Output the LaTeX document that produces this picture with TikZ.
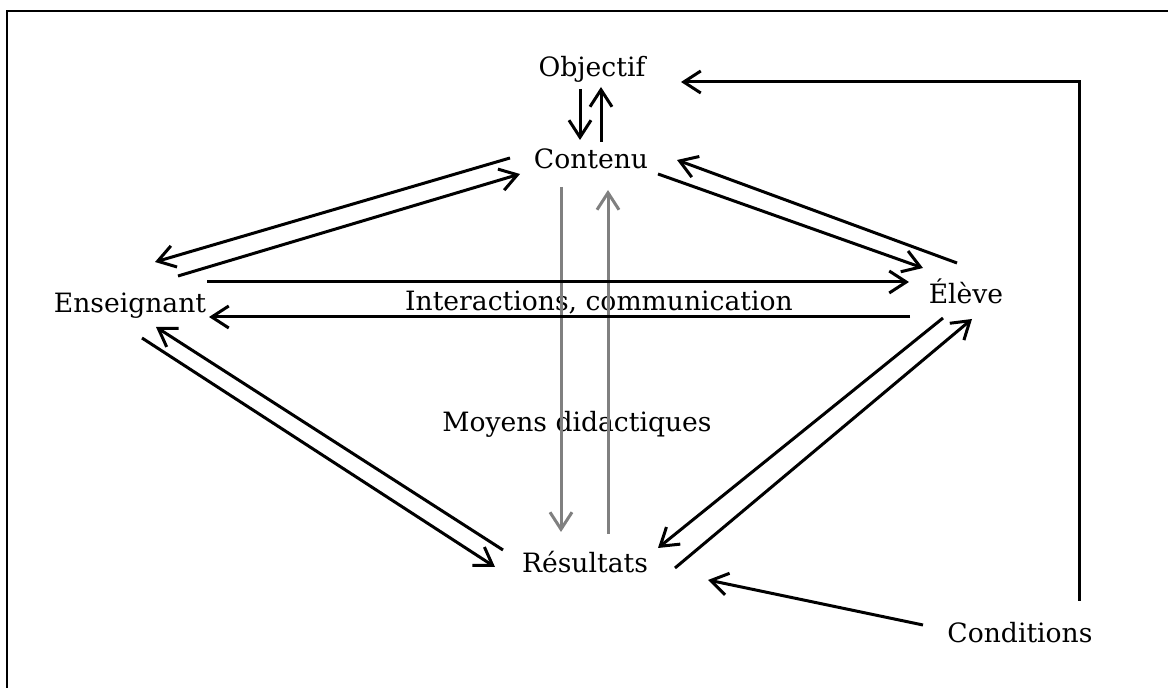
\documentclass[tikz,border=0pt]{standalone}
\usepackage{fontspec}
\setmainfont{DejaVu Serif}
\usetikzlibrary{arrows.meta}
\definecolor{midgray}{RGB}{128,128,128}
\tikzset{
  lbl/.style={anchor=base, inner sep=0pt, font=\fontsize{13.3pt}{16pt}\selectfont},
  arr/.style={line width=1.5pt, -{Straight Barb[length=8.5pt, width=11pt, line width=1.5pt]}},
  grayarr/.style={arr, draw=midgray},
  frame/.style={line width=1pt}
}
\begin{document}
\begin{tikzpicture}[x=0.5pt, y=-0.5pt]
\useasboundingbox (0,0) rectangle (1168,688);
\draw[frame] (7,688) -- (7,11) -- (1168,11);

% nodes
\node[lbl] (ob) at (592,77) {Objectif};
\node[lbl] (co) at (591,169) {Contenu};
\node[lbl] (en) at (130,313) {Enseignant};
\node[lbl] (el) at (966,304) {Élève};
\node[lbl] (re) at (585,573) {Résultats};
\node[lbl] (mo) at (577,432) {Moyens didactiques};
\node[lbl] (in) at (599,311) {Interactions, communication};
\node[lbl] (cd) at (1020,643) {Conditions};

% gray vertical arrows
\draw[grayarr] ([shift={(-30,18)}]co.base) -- ([shift={(-24,-41)}]re.base);
\draw[grayarr] ([shift={(23,-39)}]re.base) -- ([shift={(17,21)}]co.base);

% Objectif <-> Contenu
\draw[arr] ([shift={(-12,12)}]ob.base) -- ([shift={(-11,-29)}]co.base);
\draw[arr] ([shift={(10,-27)}]co.base) -- ([shift={(9,10)}]ob.base);

% Conditions -> Objectif
\draw[arr] ([shift={(59,-42)}]cd.base) |- ([shift={(89,5)}]ob.base);
% Conditions -> Resultats
\draw[arr] ([shift={(-97,-18)}]cd.base) -- ([shift={(123,7)}]re.base);

% Contenu <-> Enseignant
\draw[arr] ([shift={(-81,-11)}]co.base) -- ([shift={(25,-51)}]en.base);
\draw[arr] ([shift={(48,-37)}]en.base) -- ([shift={(-71,5)}]co.base);

% Contenu <-> Eleve
\draw[arr] ([shift={(67,5)}]co.base) -- ([shift={(-43,-36)}]el.base);
\draw[arr] ([shift={(-9,-41)}]el.base) -- ([shift={(86,-9)}]co.base);

% Enseignant <-> Eleve
\draw[arr] ([shift={(77,-31)}]en.base) -- ([shift={(-57,-22)}]el.base);
\draw[arr] ([shift={(-56,13)}]el.base) -- ([shift={(79,4)}]en.base);

% Resultats <-> Enseignant
\draw[arr] ([shift={(-82,-23)}]re.base) -- ([shift={(26,14)}]en.base);
\draw[arr] ([shift={(12,25)}]en.base) -- ([shift={(-90,-6)}]re.base);

% Eleve <-> Resultats
\draw[arr] ([shift={(-23,14)}]el.base) -- ([shift={(73,-25)}]re.base);
\draw[arr] ([shift={(90,-5)}]re.base) -- ([shift={(6,15)}]el.base);
\end{tikzpicture}
\end{document}
